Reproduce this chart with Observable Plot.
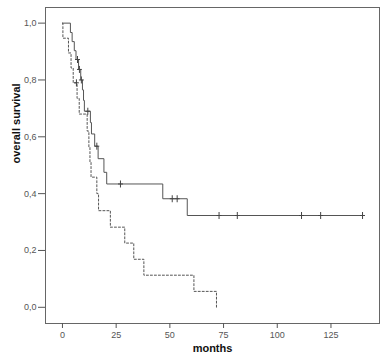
<!DOCTYPE html>
<html><head><meta charset="utf-8">
<script src="https://cdn.jsdelivr.net/npm/d3@7"></script>
<script src="https://cdn.jsdelivr.net/npm/@observablehq/plot@0.6"></script>
<style>body{margin:0;background:#fff}</style>
</head><body><div id="chart"></div>
<script>
// Group 1 (solid line): step times (months) and survival
const solidMonths   = [0, 3.7, 4.5, 5.5, 6.3, 7.5, 8.5, 9.3, 9.8, 10.2, 13, 13.5, 15, 16.6, 19.3, 20.6, 46.7, 58.1, 139.7];
const solidSurvival = [1.0, 0.967, 0.935, 0.903, 0.872, 0.837, 0.80, 0.765, 0.728, 0.69, 0.65, 0.61, 0.567, 0.523, 0.475, 0.434, 0.382, 0.323, 0.323];
const solidCensorMonths   = [7.0, 7.9, 8.8, 11.8, 16.0, 27.0, 51.1, 53.4, 72.9, 81.4, 111.3, 120.2, 139.7];
const solidCensorSurvival = [0.872, 0.837, 0.80, 0.69, 0.567, 0.434, 0.382, 0.382, 0.323, 0.323, 0.323, 0.323, 0.323];

// Group 2 (dashed line)
const dashedMonths   = [0, 0.2, 2.8, 4.0, 5.0, 6.8, 7.8, 11.5, 12.3, 12.8, 13.3, 16.0, 16.8, 22.3, 29.0, 33.2, 37.9, 61.2, 71.7];
const dashedSurvival = [1.0, 0.947, 0.895, 0.842, 0.79, 0.735, 0.68, 0.62, 0.565, 0.51, 0.458, 0.40, 0.34, 0.282, 0.226, 0.169, 0.113, 0.056, 0.0];
const dashedCensorMonths   = [6.5];
const dashedCensorSurvival = [0.79];

const xTicks = [0, 25, 50, 75, 100, 125];
const yTicks = [0, 0.2, 0.4, 0.6, 0.8, 1.0];

const solid = solidMonths.map((m, i) => ({m, s: solidSurvival[i]}));
const dashed = dashedMonths.map((m, i) => ({m, s: dashedSurvival[i]}));
const censors = [
  ...solidCensorMonths.map((m, i) => ({m, s: solidCensorSurvival[i]})),
  ...dashedCensorMonths.map((m, i) => ({m, s: dashedCensorSurvival[i]}))
];

const censorSymbol = {
  draw(context, size) {
    const r = Math.sqrt(size / Math.PI);
    context.moveTo(0, -r); context.lineTo(0, r);
    context.moveTo(-r * 0.7, 0); context.lineTo(r * 0.7, 0);
  }
};

const chart = Plot.plot({
  width: 384, height: 361,
  marginTop: 7, marginBottom: 38, marginLeft: 45, marginRight: 5,
  style: {fontFamily: "'Liberation Sans', Arial, sans-serif", fontSize: "9px", color: "#555", background: "#fff"},
  x: {domain: [-7.9, 147.6]},
  y: {domain: [-0.057, 1.055]},
  marks: [
    Plot.frame({stroke: "#666"}),
    Plot.axisX(xTicks, {tickSize: 5, tickPadding: 3, label: null, stroke: "#555", fill: "#555"}),
    Plot.axisY(yTicks, {tickSize: 7, tickPadding: 2, label: null, stroke: "#555", fill: "#555",
      tickFormat: d => d.toFixed(1).replace(".", ",")}),
    Plot.text(["overall survival"], {frameAnchor: "left", dx: -29, dy: -2, rotate: -90, fontWeight: "bold", fontSize: 11, fill: "#111"}),
    Plot.text(["months"], {frameAnchor: "bottom", dy: 28, fontWeight: "bold", fontSize: 11, fill: "#111"}),
    Plot.line(dashed, {x: "m", y: "s", curve: "step-after", stroke: "#555", strokeWidth: 1, strokeDasharray: "2,2"}),
    Plot.line(solid, {x: "m", y: "s", curve: "step-after", stroke: "#555", strokeWidth: 1}),
    Plot.dot(censors, {x: "m", y: "s", symbol: censorSymbol, r: 3.5, stroke: "#444", strokeWidth: 1, fill: "none"})
  ]
});
document.getElementById("chart").append(chart);
</script>
</body></html>
